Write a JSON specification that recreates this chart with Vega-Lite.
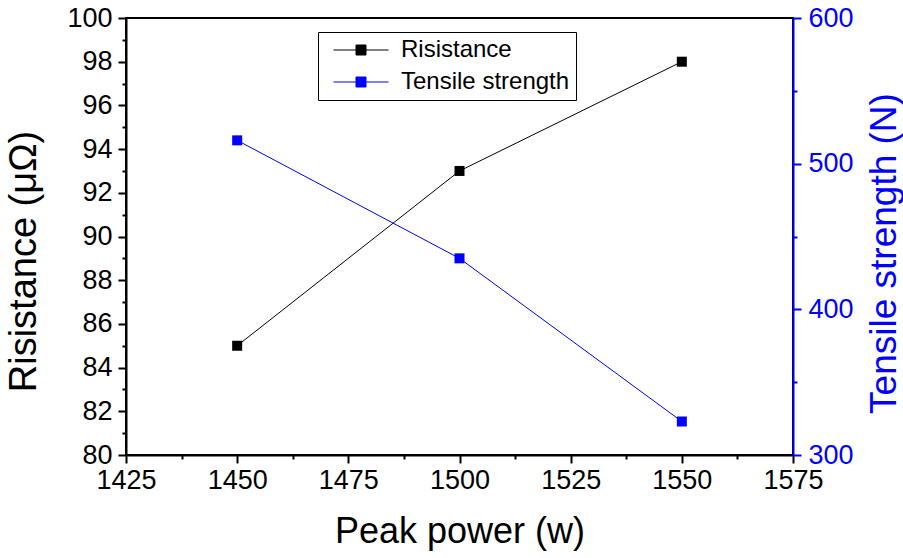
{
  "$schema": "https://vega.github.io/schema/vega-lite/v6.json",
  "width": 667,
  "height": 437,
  "autosize": "none",
  "padding": {"left": 126, "top": 18, "right": 110, "bottom": 103},
  "config": {
    "font": "Liberation Sans",
    "view": {"stroke": "black", "strokeWidth": 2},
    "axis": {"grid": false, "titleFontWeight": "normal"}
  },
  "data": {
    "values": [
      {"power": 1450, "series": "Risistance", "value": 85},
      {"power": 1500, "series": "Risistance", "value": 93},
      {"power": 1550, "series": "Risistance", "value": 98},
      {"power": 1450, "series": "Tensile strength", "value": 516},
      {"power": 1500, "series": "Tensile strength", "value": 435},
      {"power": 1550, "series": "Tensile strength", "value": 323}
    ]
  },
  "encoding": {
    "x": {
      "field": "power",
      "type": "quantitative",
      "scale": {"domain": [1425, 1575], "nice": false, "zero": false},
      "axis": {
        "values": [1425, 1437.5, 1450, 1462.5, 1475, 1487.5, 1500, 1512.5, 1525, 1537.5, 1550, 1562.5, 1575],
        "format": "d",
        "labelExpr": "datum.value % 25 === 0 ? datum.label : ''",
        "tickSize": {"condition": {"test": "datum.value % 25 === 0", "value": 8}, "value": 4},
        "tickWidth": 2,
        "domainWidth": 2,
        "domainColor": "black",
        "tickColor": "black",
        "labelColor": "black",
        "labelFontSize": 27,
        "labelPadding": 4,
        "labelFlush": false,
        "title": "Peak power (w)",
        "titleFontSize": 36,
        "titleColor": "black",
        "titlePadding": 21
      }
    },
    "color": {
      "field": "series",
      "type": "nominal",
      "scale": {"domain": ["Risistance", "Tensile strength"], "range": ["#000000", "#0000ff"]},
      "legend": {
        "title": null,
        "orient": "none",
        "legendX": 192,
        "legendY": 14,
        "fillColor": "white",
        "strokeColor": "black",
        "padding": 6,
        "symbolOffset": 25,
        "symbolType": "M-2.75,0H2.75M-0.5,-0.5H0.5V0.5H-0.5Z",
        "symbolSize": 400,
        "symbolStrokeWidth": 1,
        "labelFontSize": 24,
        "labelColor": "black",
        "labelOffset": 28,
        "labelLimit": 400,
        "rowPadding": 8
      }
    }
  },
  "layer": [
    {
      "transform": [{"filter": "datum.series === 'Risistance'"}],
      "encoding": {
        "y": {
          "field": "value",
          "type": "quantitative",
          "scale": {"domain": [80, 100], "nice": false, "zero": false},
          "axis": {
            "orient": "left",
            "values": [80, 81, 82, 83, 84, 85, 86, 87, 88, 89, 90, 91, 92, 93, 94, 95, 96, 97, 98, 99, 100],
            "labelExpr": "datum.value % 2 === 0 ? datum.label : ''",
            "tickSize": {"condition": {"test": "datum.value % 2 === 0", "value": 8}, "value": 4},
            "tickWidth": 2,
            "domainWidth": 2,
            "domainColor": "black",
            "tickColor": "black",
            "labelColor": "black",
            "labelFontSize": 27,
            "labelPadding": 6,
            "title": "Risistance (μΩ)",
            "titleFontSize": 38,
            "titleColor": "black",
            "titlePadding": 23,
            "titleY": 243
          }
        }
      },
      "layer": [
        {"mark": {"type": "line", "strokeWidth": 1}},
        {"mark": {"type": "point", "shape": "square", "filled": true, "size": 100, "opacity": 1}}
      ]
    },
    {
      "transform": [{"filter": "datum.series === 'Tensile strength'"}],
      "encoding": {
        "y": {
          "field": "value",
          "type": "quantitative",
          "scale": {"domain": [300, 600], "nice": false, "zero": false},
          "axis": {
            "orient": "right",
            "values": [300, 350, 400, 450, 500, 550, 600],
            "labelExpr": "datum.value % 100 === 0 ? datum.label : ''",
            "tickSize": {"condition": {"test": "datum.value % 100 === 0", "value": 8}, "value": 4},
            "tickWidth": 2,
            "domainWidth": 2,
            "domainColor": "#0000ff",
            "tickColor": "#0000ff",
            "labelColor": "#0000ff",
            "labelFontSize": 27,
            "labelPadding": 7,
            "title": "Tensile strength (N)",
            "titleFontSize": 37,
            "titleColor": "#0000ff",
            "titleAngle": 270,
            "titleBaseline": "top",
            "titlePadding": 13,
            "titleY": 235
          }
        }
      },
      "layer": [
        {"mark": {"type": "line", "strokeWidth": 1}},
        {"mark": {"type": "point", "shape": "square", "filled": true, "size": 100, "opacity": 1}}
      ]
    }
  ],
  "resolve": {"scale": {"y": "independent"}}
}
